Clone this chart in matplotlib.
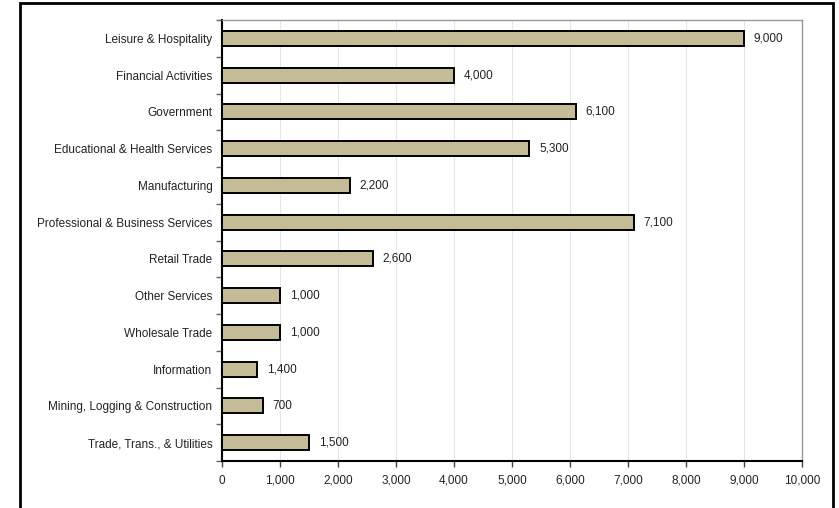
import matplotlib.pyplot as plt
from matplotlib.patches import Rectangle

# Данные (сверху вниз)
categories = ['Leisure & Hospitality', 'Financial Activities', 'Government',
              'Educational & Health Services', 'Manufacturing',
              'Professional & Business Services', 'Retail Trade', 'Other Services',
              'Wholesale Trade', 'Information', 'Mining, Logging & Construction',
              'Trade, Trans., & Utilities']
values = [9000, 4000, 6100, 5300, 2200, 7100, 2600, 1000, 1000, 600, 700, 1500]
labels = ['9,000', '4,000', '6,100', '5,300', '2,200', '7,100', '2,600', '1,000',
          '1,000', '1,400', '700', '1,500']
xticks = list(range(0, 10001, 1000))

plt.rcParams['font.family'] = ['Liberation Sans', 'DejaVu Sans']

fig = plt.figure(figsize=(8.39, 5.08), dpi=100)
ax = fig.add_axes([222/839, (508-461)/508, (802-222)/839, (461-20)/508])

n = len(categories)
ypos = list(range(n - 1, -1, -1))
ax.barh(ypos, values, height=0.41, color='#c4bc96', edgecolor='black', linewidth=1.4, zorder=3)

for y, v, lab in zip(ypos, values, labels):
    ax.text(v + 170, y, lab, va='center', ha='left', fontsize=8.5, color='#222222')

ax.set_xlim(0, 10000)
ax.set_ylim(-0.5, n - 0.5)
ax.set_xticks(xticks)
ax.set_xticklabels([f'{t:,}' for t in xticks], fontsize=8.5, color='#222222')
ax.set_yticks(ypos)
ax.set_yticklabels(categories, fontsize=8.5, color='#222222')
ax.tick_params(axis='y', length=0, pad=7)
ax.set_yticks([i + 0.5 for i in range(-1, n)], minor=True)
ax.tick_params(axis='y', which='minor', length=4, width=1, color='#666666')
ax.tick_params(axis='x', length=4, width=1, color='#444444', pad=6)

ax.grid(axis='x', color='#e6e6e6', linewidth=0.8, zorder=0)
ax.set_axisbelow(True)

ax.spines['left'].set_linewidth(1.5)
ax.spines['bottom'].set_linewidth(1.5)
ax.spines['top'].set_color('#999999')
ax.spines['right'].set_color('#999999')
ax.spines['top'].set_linewidth(1)
ax.spines['right'].set_linewidth(1)

# внешняя рамка
fig.patches.append(Rectangle((20/839, -0.02), (833-20)/839, (508-3)/508 + 0.02,
                             transform=fig.transFigure, fill=False,
                             edgecolor='black', linewidth=2))

fig.savefig('out.png', dpi=100)
